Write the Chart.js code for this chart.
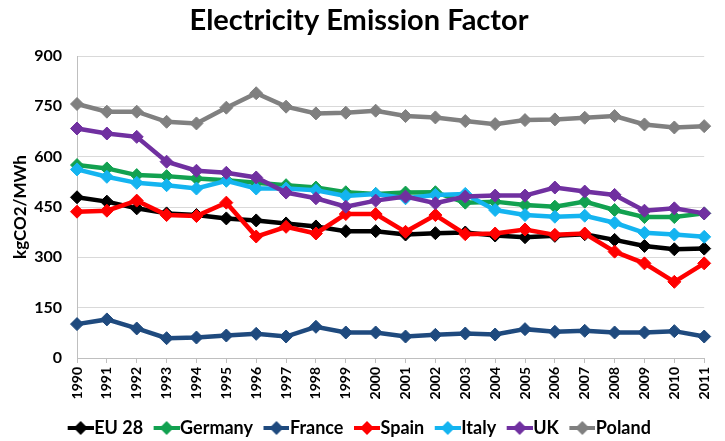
<!DOCTYPE html>
<html>
<head>
<meta charset="utf-8">
<script src="https://cdn.jsdelivr.net/npm/chart.js"></script>
<style>
  html, body { margin: 0; padding: 0; background: #fff; }
  #wrap { width: 725px; height: 441px; }
</style>
</head>
<body>
<div id="wrap"><canvas id="chart" width="725" height="441"></canvas></div>
<script>
const years = ["1990", "1991", "1992", "1993", "1994", "1995", "1996", "1997", "1998", "1999", "2000",
    "2001", "2002", "2003", "2004", "2005", "2006", "2007", "2008", "2009", "2010", "2011"];

const eu28 = [479, 466, 446, 431, 426, 416, 410, 401, 392, 378, 378, 368, 372, 374, 365, 360, 364, 369, 352, 334, 324, 326];
const germany = [575, 565, 545, 542, 535, 530, 522, 515, 508, 494, 489, 493, 494, 463, 466, 456, 451, 466, 441, 420, 420, 431];
const france = [101, 115, 88, 59, 61, 67, 72, 64, 93, 76, 76, 64, 69, 73, 70, 86, 78, 81, 76, 76, 80, 64];
const spain = [436, 439, 469, 426, 423, 463, 362, 391, 371, 429, 429, 376, 426, 369, 371, 383, 367, 371, 317, 282, 227, 282];
const italy = [562, 540, 522, 515, 505, 528, 505, 505, 500, 483, 489, 476, 486, 489, 441, 426, 421, 424, 403, 373, 368, 361];
const uk = [684, 669, 659, 585, 558, 552, 538, 493, 476, 451, 469, 481, 461, 481, 484, 484, 508, 496, 486, 439, 446, 431];
const poland = [757, 734, 734, 704, 699, 746, 789, 749, 729, 731, 737, 721, 717, 706, 697, 709, 711, 716, 721, 696, 687, 691];

const seriesNames = ["EU 28", "Germany", "France", "Spain", "Italy", "UK", "Poland"];
const seriesColors = ["#000000", "#12a150", "#1f4a7e", "#ff0000", "#14b4f0", "#7030a0", "#808080"];
const yTicks = [0, 150, 300, 450, 600, 750, 900];

const fontFamily = "Lato, 'Open Sans', sans-serif";

// line + diamond for the legend; left part is transparent so the marker
// sits right against the label text
function legendMarker(color) {
    const c = document.createElement("canvas");
    c.width = 35;
    c.height = 14;
    const g = c.getContext("2d");
    const x0 = 9;
    g.strokeStyle = color;
    g.lineWidth = 4;
    g.beginPath();
    g.moveTo(x0, 7);
    g.lineTo(x0 + 26, 7);
    g.stroke();
    g.fillStyle = color;
    g.beginPath();
    g.moveTo(x0 + 13, 0);
    g.lineTo(x0 + 20, 7);
    g.lineTo(x0 + 13, 14);
    g.lineTo(x0 + 6, 7);
    g.closePath();
    g.fill();
    return c;
}

const allData = [eu28, germany, france, spain, italy, uk, poland];
const datasets = allData.map((vals, i) => ({
    label: seriesNames[i],
    data: vals,
    borderColor: seriesColors[i],
    backgroundColor: seriesColors[i],
    borderWidth: 4.5,
    pointStyle: "rectRot",
    pointRadius: 6.5,
    pointHoverRadius: 6.5,
    pointBorderWidth: 1,
    tension: 0,
    clip: false,
    order: 6 - i
}));

new Chart(document.getElementById("chart"), {
    type: "line",
    data: { labels: years, datasets },
    options: {
        responsive: false,
        animation: false,
        layout: { padding: { top: 0, right: 7, bottom: -6, left: 0 } },
        plugins: {
            title: {
                display: true,
                text: "Electricity Emission Factor",
                color: "#000",
                font: { family: fontFamily, size: 29, weight: "bold", lineHeight: 1.2 },
                padding: { top: 3.5, bottom: 17.7 }
            },
            legend: {
                display: true,
                position: "bottom",
                labels: {
                    usePointStyle: true,
                    pointStyleWidth: 18,
                    padding: 10,
                    color: "#000",
                    font: { family: fontFamily, size: 18, weight: "bold" },
                    generateLabels: (chart) => chart.data.datasets.map((ds, i) => ({
                        text: ds.label,
                        fillStyle: ds.borderColor,
                        strokeStyle: ds.borderColor,
                        fontColor: "#000",
                        lineWidth: 0,
                        pointStyle: legendMarker(ds.borderColor),
                        hidden: false,
                        datasetIndex: i
                    }))
                }
            },
            tooltip: { enabled: false }
        },
        scales: {
            x: {
                offset: false,
                grid: { display: true, drawOnChartArea: false, drawTicks: true, tickLength: 5, color: "#bfbfbf" },
                border: { color: "#bfbfbf" },
                ticks: {
                    minRotation: 90,
                    maxRotation: 90,
                    padding: 4,
                    color: "#000",
                    font: { family: fontFamily, size: 14, weight: "bold" }
                },
                afterFit: (s) => { s.height = 51; }
            },
            y: {
                min: 0,
                max: 900,
                afterBuildTicks: (s) => { s.ticks = yTicks.map((v) => ({ value: v })); },
                grid: { color: "#d9d9d9", drawTicks: false },
                border: { color: "#bfbfbf" },
                ticks: {
                    padding: 15,
                    color: "#000",
                    font: { family: fontFamily, size: 16, weight: "bold" }
                },
                title: {
                    display: true,
                    text: "kgCO2/MWh",
                    color: "#000",
                    font: { family: fontFamily, size: 17, weight: "bold" },
                    padding: { top: 10, bottom: 0 }
                },
                afterFit: (s) => { s.width = 77; }
            }
        }
    }
});
</script>
</body>
</html>
